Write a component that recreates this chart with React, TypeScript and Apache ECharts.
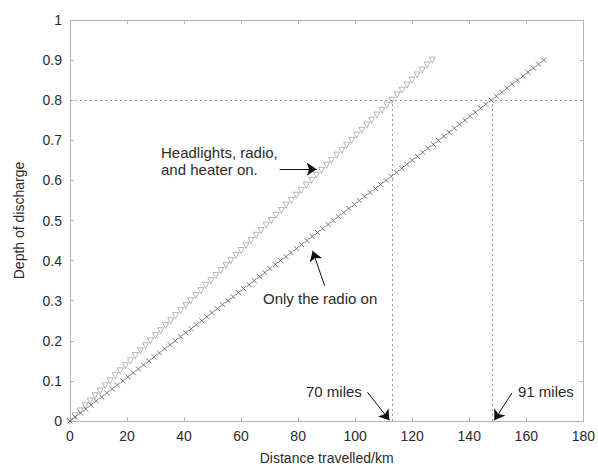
import React, { useEffect, useRef } from "react";
import * as echarts from "echarts";

// Headlights, radio and heater on (triangles): distance km / depth of discharge
const headlightsKm = [
  0, 1.8, 3.5, 5.3, 7.1, 8.8, 10.6, 12.3, 14.1, 15.9, 17.6, 19.4, 21.2, 22.9, 24.7,
  26.5, 28.2, 30.0, 31.8, 33.5, 35.3, 37.0, 38.8, 40.6, 42.3, 44.1, 45.9, 47.6, 49.4,
  51.2, 52.9, 54.7, 56.4, 58.2, 60.0, 61.7, 63.5, 65.3, 67.0, 68.8, 70.6, 72.3, 74.1,
  75.8, 77.6, 79.4, 81.1, 82.9, 84.7, 86.4, 88.2, 90.0, 91.7, 93.5, 95.3, 97.0, 98.8,
  100.5, 102.3, 104.1, 105.8, 107.6, 109.4, 111.1, 112.9, 114.7, 116.4, 118.2, 119.9,
  121.7, 123.5, 125.2, 127.0,
];
const headlightsDoD = [
  0, 0.013, 0.025, 0.038, 0.05, 0.063, 0.075, 0.088, 0.1, 0.113, 0.125, 0.138, 0.15,
  0.163, 0.175, 0.188, 0.2, 0.213, 0.225, 0.238, 0.25, 0.263, 0.275, 0.288, 0.3, 0.313,
  0.325, 0.338, 0.35, 0.363, 0.375, 0.388, 0.4, 0.413, 0.425, 0.438, 0.45, 0.463, 0.475,
  0.488, 0.5, 0.513, 0.525, 0.538, 0.55, 0.563, 0.575, 0.588, 0.6, 0.613, 0.625, 0.638,
  0.65, 0.663, 0.675, 0.688, 0.7, 0.713, 0.725, 0.738, 0.75, 0.763, 0.775, 0.788, 0.8,
  0.813, 0.825, 0.838, 0.85, 0.863, 0.875, 0.888, 0.9,
];

// Only the radio on (crosses)
const radioKm = [
  0, 1.8, 3.7, 5.5, 7.4, 9.2, 11.1, 12.9, 14.8, 16.6, 18.5, 20.3, 22.2, 24.0, 25.8,
  27.7, 29.5, 31.4, 33.2, 35.1, 36.9, 38.8, 40.6, 42.5, 44.3, 46.2, 48.0, 49.8, 51.7,
  53.5, 55.4, 57.2, 59.1, 60.9, 62.8, 64.6, 66.5, 68.3, 70.1, 72.0, 73.8, 75.7, 77.5,
  79.4, 81.2, 83.1, 84.9, 86.8, 88.6, 90.5, 92.3, 94.1, 96.0, 97.8, 99.7, 101.5, 103.4,
  105.2, 107.1, 108.9, 110.8, 112.6, 114.5, 116.3, 118.1, 120.0, 121.8, 123.7, 125.5,
  127.4, 129.2, 131.1, 132.9, 134.8, 136.6, 138.5, 140.3, 142.1, 144.0, 145.8, 147.7,
  149.5, 151.4, 153.2, 155.1, 156.9, 158.8, 160.6, 162.5, 164.3, 166.1,
];
const radioDoD = [
  0, 0.01, 0.02, 0.03, 0.04, 0.05, 0.06, 0.07, 0.08, 0.09, 0.1, 0.11, 0.12, 0.13, 0.14,
  0.15, 0.16, 0.17, 0.18, 0.19, 0.2, 0.21, 0.22, 0.23, 0.24, 0.25, 0.26, 0.27, 0.28,
  0.29, 0.3, 0.31, 0.32, 0.33, 0.34, 0.35, 0.36, 0.37, 0.38, 0.39, 0.4, 0.41, 0.42,
  0.43, 0.44, 0.45, 0.46, 0.47, 0.48, 0.49, 0.5, 0.51, 0.52, 0.53, 0.54, 0.55, 0.56,
  0.57, 0.58, 0.59, 0.6, 0.61, 0.62, 0.63, 0.64, 0.65, 0.66, 0.67, 0.68, 0.69, 0.7,
  0.71, 0.72, 0.73, 0.74, 0.75, 0.76, 0.77, 0.78, 0.79, 0.8, 0.81, 0.82, 0.83, 0.84,
  0.85, 0.86, 0.87, 0.88, 0.89, 0.9,
];

// Reference levels
const dodLevel = 0.8;
const rangeHeadlightsKm = 113; // 70 miles
const rangeRadioKm = 148; // 91 miles

// Tick labels
const xTickLabels = ["0", "20", "40", "60", "80", "100", "120", "140", "160", "180"];
const yTickLabels = ["0", "0.1", "0.2", "0.3", "0.4", "0.5", "0.6", "0.7", "0.8", "0.9", "1"];

const FONT = "'Liberation Sans', Arial, sans-serif";
const TEXT = "#2a2a2a";
const AXIS = "#b4b4b4";

export default function App() {
  const ref = useRef<HTMLDivElement>(null);

  useEffect(() => {
    if (!ref.current) return;
    const chart = echarts.init(ref.current, undefined, { renderer: "svg" });

    const axisCommon = {
      type: "value" as const,
      axisLine: { show: true, onZero: false, lineStyle: { color: AXIS, width: 1 } },
      axisTick: { show: true, inside: true, length: 4, lineStyle: { color: AXIS } },
      splitLine: { show: false },
    };

    const xTop = {
      ...axisCommon,
      position: "top" as const,
      min: 0,
      max: 180,
      interval: 20,
      axisLabel: { show: false },
    };
    const yRight = {
      ...axisCommon,
      position: "right" as const,
      min: 0,
      max: 1,
      interval: 0.1,
      axisLabel: { show: false },
    };

    const refLineStyle = { color: "#9a9a9a", width: 1, type: [2, 3] as number[] };

    chart.setOption({
      animation: false,
      backgroundColor: "#ffffff",
      grid: { left: 70, right: 14, top: 20, bottom: 46, containLabel: false },
      xAxis: [
        {
          ...axisCommon,
          position: "bottom",
          min: 0,
          max: 180,
          interval: 20,
          name: "Distance travelled/km",
          nameLocation: "middle",
          nameGap: 30,
          nameTextStyle: { color: TEXT, fontSize: 14, fontFamily: FONT },
          axisLabel: {
            color: TEXT,
            fontSize: 14,
            fontFamily: FONT,
            margin: 8,
            formatter: (v: number) => xTickLabels[Math.round(v / 20)] ?? "",
          },
        },
        xTop,
      ],
      yAxis: [
        {
          ...axisCommon,
          position: "left",
          min: 0,
          max: 1,
          interval: 0.1,
          name: "Depth of discharge",
          nameLocation: "middle",
          nameGap: 44,
          nameTextStyle: { color: TEXT, fontSize: 14, fontFamily: FONT },
          axisLabel: {
            color: TEXT,
            fontSize: 14,
            fontFamily: FONT,
            margin: 8,
            formatter: (v: number) => yTickLabels[Math.round(v * 10)] ?? "",
          },
        },
        yRight,
      ],
      series: [
        {
          name: "Headlights, radio, and heater on",
          type: "scatter",
          data: headlightsKm.map((x, i) => [x, headlightsDoD[i]]),
          symbol: "triangle",
          symbolRotate: 180,
          symbolSize: 6,
          itemStyle: { color: "rgba(0,0,0,0)", borderColor: "#999999", borderWidth: 0.9 },
          markLine: {
            silent: true,
            symbol: ["none", "none"],
            label: { show: false },
            lineStyle: refLineStyle,
            data: [
              [{ coord: [0, dodLevel] }, { coord: [180, dodLevel] }],
              [{ coord: [rangeHeadlightsKm, 0] }, { coord: [rangeHeadlightsKm, dodLevel] }],
              [{ coord: [rangeRadioKm, 0] }, { coord: [rangeRadioKm, dodLevel] }],
            ],
          },
        },
        {
          name: "Only the radio on",
          type: "scatter",
          data: radioKm.map((x, i) => [x, radioDoD[i]]),
          symbol: "path://M0,0L10,10M10,0L0,10",
          symbolSize: 5,
          itemStyle: { color: "none", borderColor: "#555555", borderWidth: 1 },
          markLine: {
            silent: true,
            symbol: ["none", "arrow"],
            symbolSize: 10,
            label: { show: false },
            itemStyle: { color: "#111" },
            lineStyle: { color: "#111", width: 1, type: "solid" },
            data: [
              [{ coord: [73.5, 0.628] }, { coord: [86.5, 0.628] }],
              [{ coord: [89.3, 0.337] }, { coord: [85.1, 0.424] }],
              [{ coord: [104.3, 0.072] }, { coord: [112, 0.002] }],
              [{ coord: [155, 0.07] }, { coord: [148.8, 0.002] }],
            ],
          },
        },
      ],
      graphic: [
        {
          type: "text",
          left: 161,
          top: 144,
          style: {
            text: "Headlights, radio,\nand heater on.",
            fill: TEXT,
            font: `15px ${FONT}`,
            lineHeight: 17,
          },
        },
        {
          type: "text",
          left: 263,
          top: 291,
          style: { text: "Only the radio on", fill: TEXT, font: `15px ${FONT}` },
        },
        {
          type: "text",
          left: 306,
          top: 384,
          style: { text: "70 miles", fill: TEXT, font: `15px ${FONT}` },
        },
        {
          type: "text",
          left: 518,
          top: 384,
          style: { text: "91 miles", fill: TEXT, font: `15px ${FONT}` },
        },
      ],
    });

    return () => chart.dispose();
  }, []);

  return <div ref={ref} style={{ width: 598, height: 470, position: "absolute", left: 0, top: 0 }} />;
}
